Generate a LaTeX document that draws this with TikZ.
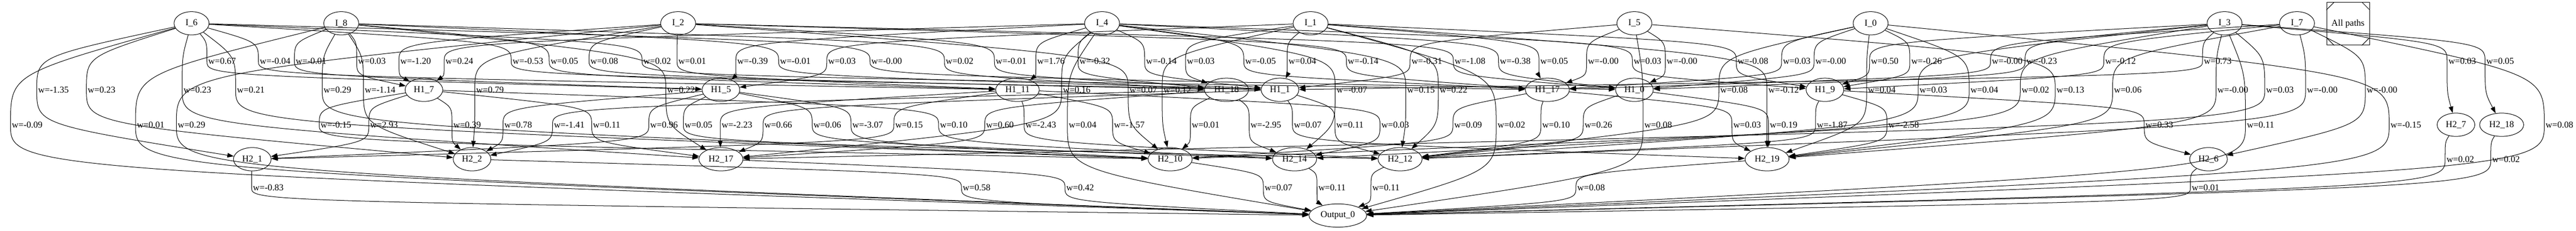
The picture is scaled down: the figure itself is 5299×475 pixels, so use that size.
\documentclass[tikz,border=0pt]{standalone}
\usepackage{fontspec}
\setmainfont{Liberation Serif}
\usetikzlibrary{arrows.meta,calc,shapes.geometric}

\tikzset{
  unit/.style={ellipse,draw,line width=0.8pt,inner xsep=5pt,inner ysep=3pt,minimum width=54pt,minimum height=36pt},
  wlab/.style={inner sep=2pt},
  wire/.style={line width=0.8pt,-{Triangle[length=10pt,width=7pt]}}
}

\begin{document}
\begin{tikzpicture}[x=0.75pt,y=-0.75pt,font=\fontsize{14}{16}\selectfont]
\useasboundingbox (0,0) rectangle (5299,475);

% inputs
\node[unit] (I6) at (394,48) {I\_6};
\node[unit] (I8) at (702,48) {I\_8};
\node[unit] (I2) at (1395,48) {I\_2};
\node[unit] (I4) at (2267,48) {I\_4};
\node[unit] (I1) at (2696,48) {I\_1};
\node[unit] (I5) at (3362,48) {I\_5};
\node[unit] (I0) at (3848,48) {I\_0};
\node[unit] (I3) at (4576,48) {I\_3};
\node[unit] (I7) at (4725,48) {I\_7};

% first hidden layer
\node[unit] (H1n7)  at (872,185)  {H1\_7};
\node[unit] (H1n5)  at (1483,185) {H1\_5};
\node[unit] (H1n11) at (2093,185) {H1\_11};
\node[unit] (H1n18) at (2523,185) {H1\_18};
\node[unit] (H1n1)  at (2633,185) {H1\_1};
\node[unit] (H1n17) at (3183,185) {H1\_17};
\node[unit] (H1n0)  at (3362,185) {H1\_0};
\node[unit] (H1n9)  at (3754,185) {H1\_9};

% second hidden layer
\node[unit] (H2n1)  at (519,328)  {H2\_1};
\node[unit] (H2n2)  at (971,328)  {H2\_2};
\node[unit] (H2n17) at (1483,328) {H2\_17};
\node[unit] (H2n10) at (2407,328) {H2\_10};
\node[unit] (H2n14) at (2663,328) {H2\_14};
\node[unit] (H2n12) at (2880,328) {H2\_12};
\node[unit] (H2n19) at (3635,328) {H2\_19};
\node[unit] (H2n6)  at (4543,328) {H2\_6};
\node[unit] (H2n7)  at (5052,257) {H2\_7};
\node[unit] (H2n18) at (5146,257) {H2\_18};

\node[unit] (Out) at (2752,444) {Output\_0};

\node[draw,line width=0.8pt,minimum size=66pt,inner sep=0pt] (paths) at (4830,49) {All paths};
\draw[line width=0.8pt] ([yshift=-12pt]paths.north west) -- ([xshift=12pt]paths.north west)
    ([xshift=-12pt]paths.north east) -- ([yshift=-12pt]paths.north east)
    ([yshift=12pt]paths.south west) -- ([xshift=12pt]paths.south west)
    ([xshift=-12pt]paths.south east) -- ([yshift=12pt]paths.south east);

% weighted links: source/target/label x/label y/weight
\foreach \src/\dst/\lx/\ly/\wt [count=\k] in {
  I6/H1n5/457/126/0.67, I6/H1n11/566/126/-0.04, I8/H1n5/640/126/-0.01, I8/H1n7/765/126/0.03,
  I2/H1n7/855/126/-1.20, I4/H1n7/945/126/0.24, I6/H1n1/1086/126/-0.53, I8/H1n11/1161/126/0.05,
  I2/H1n18/1243/126/0.08, I6/H1n17/1352/126/0.02, I2/H1n11/1424/126/0.01, I4/H1n5/1548/126/-0.39,
  I8/H1n1/1636/126/-0.01, I1/H1n5/1732/126/0.03, I6/H1n0/1824/126/-0.00, I8/H1n18/1974/126/0.02,
  I2/H1n1/2080/126/-0.01, I4/H1n11/2162/126/1.76, I4/H1n18/2252/126/-0.32, I4/H1n1/2389/126/-0.14,
  I1/H1n18/2470/126/0.03, I4/H1n17/2593/126/-0.05, I1/H1n1/2679/126/0.04, I2/H1n17/2804/126/-0.14,
  I5/H1n1/2935/126/-0.31, I2/H1n0/3024/126/-1.08, I4/H1n0/3117/126/-0.38, I1/H1n17/3197/126/0.05,
  I5/H1n17/3298/126/-0.00, I4/H1n9/3389/126/0.03, I5/H1n0/3460/126/-0.00, I1/H1n9/3606/126/-0.08,
  I0/H1n17/3696/126/0.03, I0/H1n0/3766/126/-0.00, I3/H1n9/3877/126/0.50, I0/H1n9/3963/126/-0.26,
  I7/H1n17/4129/126/-0.00, I3/H1n0/4200/126/-0.23, I7/H1n9/4362/126/-0.12, I3/H1n1/4562/126/0.73,
  I3/H2n7/5065/126/0.03, I3/H2n18/5143/126/0.05,
  I6/H2n1/110/185/-1.35, I6/H2n2/209/185/0.23, I6/H2n17/406/185/0.23, I6/H2n10/516/185/0.21,
  I8/H2n10/694/185/0.29, I8/H2n2/782/185/-1.14, I2/H2n2/1008/185/0.79, I8/H2n17/1401/185/0.22,
  I4/H2n17/2215/185/0.16, I2/H2n10/2352/185/0.07, I1/H2n10/2422/185/0.12, I4/H2n14/2781/185/-0.07,
  I4/H2n12/2923/185/0.15, I1/H2n12/2990/185/0.22, I0/H2n12/3567/185/0.08, I1/H2n19/3669/185/-0.12,
  I0/H2n19/3871/185/0.04, I3/H2n12/3977/185/0.03, I0/H2n14/4082/185/0.04, I3/H2n10/4187/185/0.02,
  I5/H2n19/4259/185/0.13, I7/H2n19/4377/185/0.06, I3/H2n19/4593/185/-0.00, I3/H2n17/4690/185/0.03,
  I7/H2n12/4777/185/-0.00, I7/H2n6/4900/185/-0.00,
  I6/Out/56/257/-0.09, I8/Out/310/257/0.01, I2/Out/394/257/0.29, H1n7/H2n10/691/257/-0.15,
  H1n7/H2n1/790/257/2.93, H1n7/H2n2/961/257/0.39, H1n5/H2n2/1066/257/0.78, H1n18/H2n2/1171/257/-1.41,
  H1n7/H2n17/1248/257/0.11, H1n5/H2n1/1366/257/0.96, H1n5/H2n12/1437/257/0.05, H1n11/H2n17/1516/257/-2.23,
  H1n1/H2n17/1601/257/0.66, H1n5/H2n14/1702/257/0.06, H1n5/H2n10/1785/257/-3.07, H1n11/H2n1/1870/257/0.15,
  H1n7/H2n14/1962/257/0.10, H1n18/H2n17/2057/257/0.60, H1n11/H2n12/2141/257/-2.43, I4/Out/2227/257/0.04,
  H1n11/H2n10/2323/257/-1.57, H1n18/H2n10/2480/257/0.01, H1n18/H2n14/2604/257/-2.95, H1n1/H2n19/2690/257/0.07,
  H1n1/H2n12/2777/257/0.11, H1n11/H2n14/2870/257/0.03, H1n17/H2n10/3020/257/0.09, I1/Out/3109/257/0.02,
  H1n17/H2n12/3201/257/0.10, H1n0/H2n12/3288/257/0.26, I5/Out/3411/257/0.08, H1n17/H2n19/3594/257/0.03,
  H1n0/H2n19/3669/257/0.19, H1n9/H2n12/3769/257/-1.87, H1n9/H2n19/3916/257/-2.58, H1n9/H2n6/4442/257/0.33,
  I3/Out/4650/257/0.11, I0/Out/4949/257/-0.15, I7/Out/5265/257/0.08,
  H2n7/Out/5061/328/0.02, H2n18/Out/5155/328/0.02,
  H2n1/Out/552/387/-0.83, H2n2/Out/2009/387/0.58, H2n17/Out/2222/387/0.42, H2n10/Out/2630/387/0.07,
  H2n14/Out/2740/387/0.11, H2n12/Out/2851/387/0.11, H2n19/Out/3273/387/0.08, H2n6/Out/4537/387/0.01}
{
  \node[wlab] (w\k) at (\lx,\ly) {w=\wt};
  \draw[wire] (\src) .. controls ($(w\k.west)!.5!(w\k.west |- \src)$) .. (w\k.west)
      .. controls ($(w\k.west)!.5!(w\k.west |- \dst)$) .. (\dst);
}
\end{tikzpicture}
\end{document}
